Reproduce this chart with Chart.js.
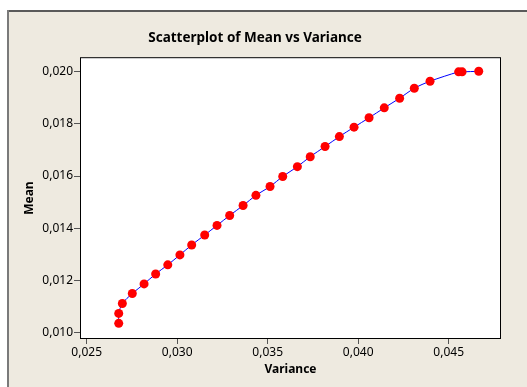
<!DOCTYPE html>
<html>
<head>
<meta charset="utf-8">
<script src="https://cdn.jsdelivr.net/npm/chart.js@4.4.1/dist/chart.umd.min.js"></script>
<style>
    html, body { margin: 0; padding: 0; background: #ffffff; }
    #wrap { position: absolute; left: 0; top: 0; width: 527px; height: 387px; }
</style>
</head>
<body>
<div id="wrap"><canvas id="chart" width="527" height="387"></canvas></div>
<script>
// Scatterplot of Mean vs Variance - Minitab style

// Data
const variance = [
    0.02677, 0.02677, 0.02697, 0.02752, 0.02817, 0.02881, 0.02948, 0.03015,
    0.03080, 0.03152, 0.03220, 0.03290, 0.03364, 0.03435, 0.03513, 0.03583,
    0.03664, 0.03735, 0.03817, 0.03896, 0.03977, 0.04060, 0.04144, 0.04229,
    0.04310, 0.04397, 0.04555, 0.04574, 0.04666
];
const mean = [
    0.01036, 0.01074, 0.01112, 0.01150, 0.01187, 0.01225, 0.01260, 0.01298,
    0.01336, 0.01374, 0.01411, 0.01449, 0.01487, 0.01526, 0.01560, 0.01598,
    0.01636, 0.01674, 0.01713, 0.01751, 0.01787, 0.01823, 0.01861, 0.01898,
    0.01936, 0.01963, 0.01999, 0.01999, 0.02001
];
const xTicks = [0.025, 0.030, 0.035, 0.040, 0.045];
const yTicks = [0.010, 0.012, 0.014, 0.016, 0.018, 0.020];

const COLORS = {
    background: '#eeeae0',
    frameTop: '#5a5a5a',
    frameLeft: '#7a7a7a',
    point: '#ff0000',
    line: '#0000ff',
    text: '#000000',
    axis: '#000000',
    tick: '#555555'
};

const FONT = "'Noto Sans', 'DejaVu Sans', sans-serif";

// comma decimal like the original
function fmt(v) {
    return v.toFixed(3).replace('.', ',');
}

// beige panel with the grey frame, plus the box round the plot area
const framePlugin = {
    id: 'frame',
    beforeDraw(chart) {
        const ctx = chart.ctx;
        ctx.save();
        ctx.fillStyle = '#ffffff';
        ctx.fillRect(0, 0, chart.width, chart.height);
        ctx.fillStyle = COLORS.background;
        ctx.fillRect(7, 10, chart.width - 7, chart.height - 10);
        ctx.fillStyle = COLORS.frameTop;
        ctx.fillRect(7, 10, chart.width - 7, 2);
        ctx.fillStyle = COLORS.frameLeft;
        ctx.fillRect(7, 10, 2, chart.height - 10);
        const a = chart.chartArea;
        ctx.fillStyle = '#ffffff';
        ctx.fillRect(a.left, a.top, a.right - a.left, a.bottom - a.top);
        ctx.restore();
    },
    afterDatasetsDraw(chart) {
        const ctx = chart.ctx;
        const a = chart.chartArea;
        ctx.save();
        ctx.strokeStyle = COLORS.axis;
        ctx.lineWidth = 1;
        ctx.strokeRect(a.left + 0.5, a.top + 0.5, a.right - a.left - 1, a.bottom - a.top - 1);
        ctx.restore();
    }
};

const points = variance.map((v, i) => ({ x: v, y: mean[i] }));

new Chart(document.getElementById('chart'), {
    type: 'scatter',
    data: {
        datasets: [{
            label: 'Mean',
            data: points,
            showLine: true,
            borderColor: COLORS.line,
            borderWidth: 1,
            tension: 0.3,
            pointRadius: 4.5,
            pointBackgroundColor: COLORS.point,
            pointBorderWidth: 0,
            pointBorderColor: COLORS.point
        }]
    },
    options: {
        responsive: false,
        animation: false,
        layout: {
            padding: { top: 12, right: 26, bottom: 6, left: 9 }
        },
        plugins: {
            legend: { display: false },
            tooltip: { enabled: false },
            title: {
                display: true,
                text: 'Scatterplot of Mean vs Variance',
                color: COLORS.text,
                font: { family: FONT, size: 13.5, weight: 'bold' },
                padding: { top: 18, bottom: 11 }
            }
        },
        scales: {
            x: {
                type: 'linear',
                min: 0.02463,
                max: 0.04789,
                afterBuildTicks(scale) {
                    scale.ticks = xTicks.map(v => ({ value: v }));
                },
                afterFit(scale) {
                    scale.height = 42;
                },
                grid: {
                    display: true,
                    drawOnChartArea: false,
                    drawTicks: true,
                    tickLength: 5,
                    color: COLORS.tick
                },
                border: { display: false },
                ticks: {
                    color: COLORS.text,
                    padding: 1,
                    maxRotation: 0,
                    font: { family: FONT, size: 12 },
                    callback: fmt
                },
                title: {
                    display: true,
                    text: 'Variance',
                    color: COLORS.text,
                    font: { family: FONT, size: 12, weight: 'bold' },
                    padding: { top: 0, bottom: 4 }
                }
            },
            y: {
                type: 'linear',
                min: 0.00976,
                max: 0.02055,
                afterBuildTicks(scale) {
                    scale.ticks = yTicks.map(v => ({ value: v }));
                },
                afterFit(scale) {
                    scale.width = 71;
                },
                grid: {
                    display: true,
                    drawOnChartArea: false,
                    drawTicks: true,
                    tickLength: 6,
                    color: COLORS.tick
                },
                border: { display: false },
                ticks: {
                    color: COLORS.text,
                    padding: 1,
                    font: { family: FONT, size: 12 },
                    callback: fmt
                },
                title: {
                    display: true,
                    text: 'Mean',
                    color: COLORS.text,
                    font: { family: FONT, size: 12, weight: 'bold' },
                    padding: { top: 13, bottom: 0 }
                }
            }
        }
    },
    plugins: [framePlugin]
});
</script>
</body>
</html>
